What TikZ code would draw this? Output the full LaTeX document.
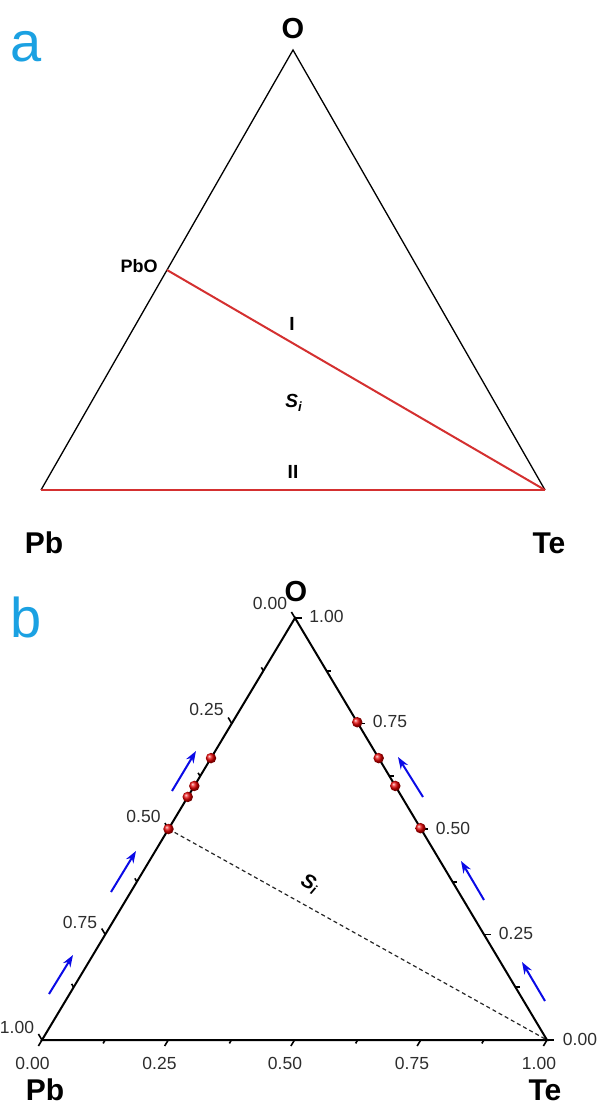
\documentclass[tikz,border=0pt]{standalone}
\usepackage{fontspec}
\setmainfont{Liberation Sans}
\usetikzlibrary{calc,arrows.meta}
\definecolor{panellbl}{RGB}{27,161,226}
\definecolor{redline}{RGB}{212,48,48}
\definecolor{arrowblue}{RGB}{10,10,230}
\definecolor{numgray}{RGB}{45,45,45}
\begin{document}
\begin{tikzpicture}[x=1pt,y=-1pt,
  panel/.style={inner sep=0pt, text=panellbl, font=\fontsize{56}{56}\selectfont},
  vlbl/.style={inner sep=0pt, font=\fontsize{30}{30}\selectfont\bfseries},
  olbl/.style={inner sep=0pt, font=\fontsize{29}{29}\selectfont\bfseries},
  slbl/.style={inner sep=0pt, font=\fontsize{18}{18}\selectfont\bfseries},
  rlbl/.style={inner sep=0pt, font=\fontsize{19}{19}\selectfont\bfseries},
  num/.style={inner sep=0pt, text=numgray, font=\fontsize{17.5}{17.5}\selectfont},
  thinax/.style={line width=1.3pt, black},
  thickax/.style={line width=2pt, black},
  redl/.style={line width=2pt, redline},
  dashl/.style={line width=1.2pt, black!85, dash pattern=on 4pt off 3pt},
  tickl/.style={line width=1.6pt, black},
  dotm/.style={circle, minimum size=10.5pt, inner sep=0pt, shade, ball color=red!90!black},
  bluearr/.style={line width=2pt, arrowblue, -{Stealth[length=12pt,width=8.5pt]}}
]
\useasboundingbox (0,0) rectangle (598,1105);

% ---------------- panel a ----------------
\node[panel] (pa) at (26,47) {a};
\coordinate (Oa) at (293,50);
\coordinate (Pba) at (41,490);
\coordinate (Tea) at (545,490);
\coordinate (PbOa) at ($(Oa)!0.5!(Pba)$);
\draw[thinax] (Pba) -- (Oa) -- (Tea);
\draw[redl] (PbOa) -- (Tea);
\draw[redl] (Pba) -- (Tea);
\node[olbl] (laO) at (293,29) {O};
\node[slbl] (laPbO) at (139,266) {PbO};
\node[rlbl] (laI) at (292,324) {I};
\node[rlbl] (laS) at (294,403) {\textit{S}\textsubscript{\textit{i}}};
\node[rlbl] (laII) at (293,472) {II};
\node[vlbl] (laPb) at (44,543) {Pb};
\node[vlbl] (laTe) at (549,543) {Te};

% ---------------- panel b ----------------
\node[panel] (pb) at (26,617) {b};
\coordinate (Ob) at (295,618);
\coordinate (Pbb) at (42,1040);
\coordinate (Teb) at (547,1040);
\draw[thickax] (Pbb) -- (Ob) -- (Teb) -- cycle;

% ticks: left axis (Pb fraction), parallel to right side, pointing up-left
\foreach \t in {0,0.25,0.5,0.75,1}
  \draw[tickl] ($(Ob)!\t!(Pbb)$) -- ++(-3.6,-6.0);
\foreach \t in {0.125,0.375,0.625,0.875}
  \draw[tickl] ($(Ob)!\t!(Pbb)$) -- ++(-2.0,-3.4);
% bottom axis (Te fraction), parallel to left side, pointing down-left
\foreach \t in {0,0.25,0.5,0.75,1}
  \draw[tickl] ($(Pbb)!\t!(Teb)$) -- ++(-3.6,6.0);
\foreach \t in {0.125,0.375,0.625,0.875}
  \draw[tickl] ($(Pbb)!\t!(Teb)$) -- ++(-2.0,3.4);
% right axis (O fraction), horizontal, pointing right
\foreach \t in {0,0.25,0.5,0.75,1}
  \draw[tickl] ($(Teb)!\t!(Ob)$) -- ++(7,0);
\foreach \t in {0.125,0.375,0.625,0.875}
  \draw[tickl] ($(Teb)!\t!(Ob)$) -- ++(4,0);

% dashed S_i line
\coordinate (Db) at ($(Ob)!0.5!(Pbb)$);
\draw[dashl] (Db) -- (Teb);
\node[slbl, rotate=-29, font=\fontsize{20}{20}\selectfont\bfseries] (lbS) at (310,884) {\textit{S}\textsubscript{\textit{i}}};

% tick labels
\node[num] (nl0) at (270,603) {0.00};
\node[num] (nl1) at (206.5,709) {0.25};
\node[num] (nl2) at (143.5,816) {0.50};
\node[num] (nl3) at (80,922) {0.75};
\node[num] (nl4) at (17,1027) {1.00};
\node[num] (nb0) at (32.5,1063.5) {0.00};
\node[num] (nb1) at (159.5,1063.5) {0.25};
\node[num] (nb2) at (285,1063.5) {0.50};
\node[num] (nb3) at (412,1063.5) {0.75};
\node[num] (nb4) at (539,1063.5) {1.00};
\node[num] (nr4) at (326.5,616) {1.00};
\node[num] (nr3) at (390,721.5) {0.75};
\node[num] (nr2) at (453,828) {0.50};
\node[num] (nr1) at (516,933) {0.25};
\node[num] (nr0) at (580,1039) {0.00};

% data points
\foreach \t [count=\i] in {0.332,0.398,0.424,0.5}
  \node[dotm] (dl\i) at ($(Ob)!\t!(Pbb)$) {};
\foreach \t [count=\i] in {0.247,0.332,0.398,0.498}
  \node[dotm] (dr\i) at ($(Ob)!\t!(Teb)$) {};

% blue arrows
\coordinate (al1s) at (49,994);   \coordinate (al1e) at (73,955);
\coordinate (al2s) at (111,892);  \coordinate (al2e) at (136,851);
\coordinate (al3s) at (172,791);  \coordinate (al3e) at (196,751);
\coordinate (ar1s) at (423,797);  \coordinate (ar1e) at (398,757);
\coordinate (ar2s) at (484,900);  \coordinate (ar2e) at (461,861);
\coordinate (ar3s) at (545,1001); \coordinate (ar3e) at (522,962);
\draw[bluearr] (al1s) -- (al1e);
\draw[bluearr] (al2s) -- (al2e);
\draw[bluearr] (al3s) -- (al3e);
\draw[bluearr] (ar1s) -- (ar1e);
\draw[bluearr] (ar2s) -- (ar2e);
\draw[bluearr] (ar3s) -- (ar3e);

\node[olbl] (lbO) at (296,592) {O};
\node[vlbl] (lbPb) at (45,1090) {Pb};
\node[vlbl] (lbTe) at (545,1090) {Te};
\end{tikzpicture}
\end{document}
